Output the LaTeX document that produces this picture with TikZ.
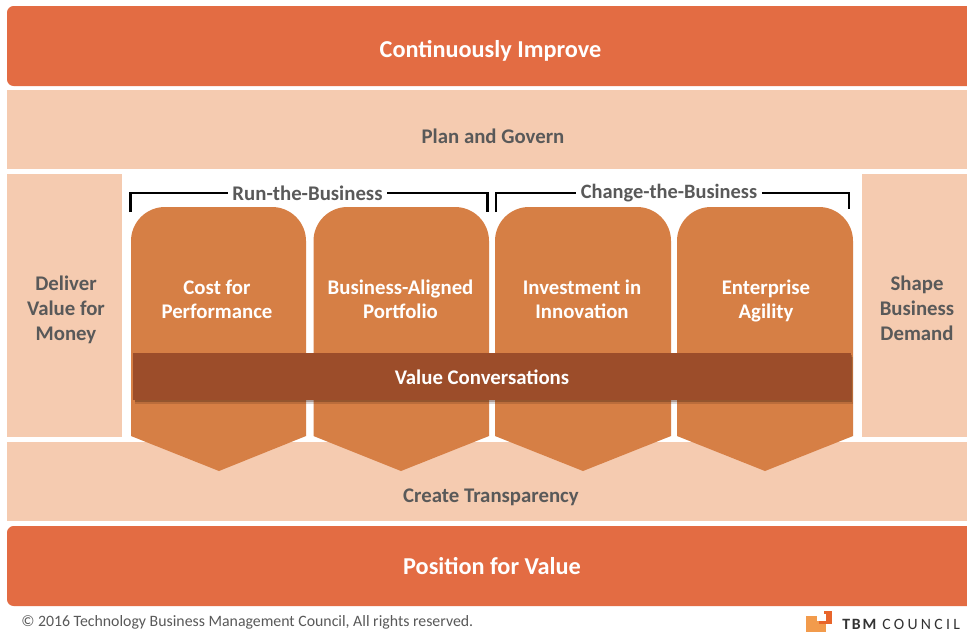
\documentclass[tikz,border=0pt]{standalone}
\usepackage{fontspec}
\setmainfont{Carlito}
\definecolor{bandD}{HTML}{E36C43}
\definecolor{bandL}{HTML}{F5CBB0}
\definecolor{pent}{HTML}{D67F45}
\definecolor{barC}{HTML}{9C4D2A}
\definecolor{txtG}{HTML}{595959}
\definecolor{logoL}{HTML}{F29B4C}
\definecolor{logoD}{HTML}{E8652B}
\tikzset{x=0.75pt,y=-0.75pt,
 darkband/.style={fill=bandD,rounded corners=5pt,draw=none},
 lightband/.style={fill=bandL,draw=none},
 pentshape/.style={fill=pent,draw=none},
 whitetxt/.style={text=white,font=\bfseries\fontsize{18.2}{18.2}\selectfont,align=center},
 smalltxt/.style={text=white,font=\bfseries\fontsize{15.6}{18}\selectfont,align=center},
 greytxt/.style={text=txtG,font=\bfseries\fontsize{15.6}{18.7}\selectfont,align=center},
 bracket/.style={draw=black,line width=2pt},
}
\begin{document}
\begin{tikzpicture}
\useasboundingbox (0,0) rectangle (967,632);
\fill[white] (0,0) rectangle (967,632);
% bands
\fill[darkband] (7,6) rectangle (980,86);
\fill[lightband] (7,90) rectangle (967,169);
\fill[lightband] (7,174) rectangle (122,437);
\fill[lightband] (862,174) rectangle (967,437);
\fill[lightband] (7,442) rectangle (967,521);
\fill[darkband] (7,526) rectangle (980,606);
\fill[white] (967,0) rectangle (985,632);
\node[whitetxt] (improve) at (490.5,51) {Continuously Improve};
\node[greytxt] (plan) at (493,136) {Plan and Govern};
\node[greytxt] (deliver) at (66,310) {Deliver\\Value for\\Money};
\node[greytxt] (shape) at (917,308) {Shape\\Business\\Demand};
\node[greytxt] (transp) at (491,497.5) {Create Transparency};
\node[whitetxt] (position) at (492,566) {Position for Value};
% pentagons
\foreach \l/\r/\t in {131/306/219,313.5/489/401,495/671/583,677/853/765}{
 \fill[pentshape] (\l,436) -- (\l,241) arc[start angle=180,end angle=90,radius=34*0.75pt] -- (\r-34,207) arc[start angle=90,end angle=0,radius=34*0.75pt] -- (\r,436) -- (\t,471) -- cycle;
}
\node[smalltxt] (cost) at (217,299) {Cost for\\Performance};
\node[smalltxt] (align) at (400.5,299) {Business-Aligned\\Portfolio};
\node[smalltxt] (invest) at (582,299.5) {Investment in\\Innovation};
\node[smalltxt] (agile) at (766,300.5) {Enterprise\\Agility};
% value bar
\fill[black!60!barC,opacity=.18] (135,357) rectangle (853,404);
\fill[black!60!barC,opacity=.3] (135,355) rectangle (852,402);
\fill[barC] (133,353) rectangle (851,400);
\node[smalltxt] (conv) at (482,377) {Value Conversations};
% brackets
\node[greytxt] (run) at (307.5,193.5) {Run-the-Business};
\node[greytxt,font=\bfseries\fontsize{15.3}{18.7}\selectfont] (change) at (669,193.5) {Change-the-Business};
\coordinate (a1) at (130.5,212); \coordinate (a2) at (130.5,193);
\coordinate (a3) at (487.5,193); \coordinate (a4) at (487.5,212);
\coordinate (b1) at (496,212); \coordinate (b2) at (496,193);
\coordinate (b3) at (849,193); \coordinate (b4) at (849,209);
\draw[bracket] (a1) -- (a2) -- (run.west |- a2);
\draw[bracket] (run.east |- a3) -- (a3) -- (a4);
\draw[bracket] (b1) -- (b2) -- (change.west |- b2);
\draw[bracket] (change.east |- b3) -- (b3) -- (b4);
% footer
\node[anchor=west,text=txtG,font=\fontsize{11.87}{14}\selectfont,inner sep=0pt] (copy) at (21,622) {© 2016 Technology Business Management Council, All rights reserved.};
\fill[logoL] (806,616) rectangle (826,632);
\fill[logoD] (819,611) rectangle (832,624);
\fill[white] (817,614) rectangle (826,621);
\fill[white] (819,611) rectangle (824,614);
\node[anchor=west,text=black!80,inner sep=0pt,font=\fontsize{11.8}{14}\selectfont] (logo) at (842,624.5) {\addfontfeatures{LetterSpace=12}\textbf{TBM}\kern 3pt\addfontfeatures{LetterSpace=21}COUNCIL};
\end{tikzpicture}
\end{document}
